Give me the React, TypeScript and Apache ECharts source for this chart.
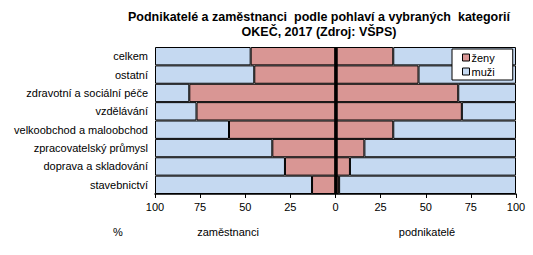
import React, { useEffect, useRef } from "react";
import * as echarts from "echarts";

const categories = [
  "celkem",
  "ostatní",
  "zdravotní a sociální péče",
  "vzdělávání",
  "velkoobchod a maloobchod",
  "zpracovatelský průmysl",
  "doprava a skladování",
  "stavebnictví",
];
// podíl žen (%)
const zenyZamestnanci = [47, 45, 81, 77, 59, 35, 28, 13];
const zenyPodnikatele = [32, 46, 68, 70, 32, 16, 8, 2];
const xTicks = [-100, -75, -50, -25, 0, 25, 50, 75, 100];
const titleLines = [
  "Podnikatelé a zaměstnanci  podle pohlaví a vybraných  kategorií",
  "OKEČ, 2017 (Zdroj: VŠPS)",
];

const PINK = "#d99694";
const BLUE = "#c5d9f1";
const FONT = "Liberation Sans, Arial, sans-serif";

export default function App() {
  const ref = useRef<HTMLDivElement>(null);
  useEffect(() => {
    if (!ref.current) return;
    const chart = echarts.init(ref.current, undefined, { renderer: "svg" });
    const muziZam = zenyZamestnanci.map((v) => -(100 - v));
    const muziPod = zenyPodnikatele.map((v) => 100 - v);
    const barBase = {
      type: "bar" as const,
      stack: "all",
      barCategoryGap: "0%",
      itemStyle: { borderColor: "#000", borderWidth: 1 },
    };
    chart.setOption({
      animation: false,
      textStyle: { fontFamily: FONT },
      grid: { left: 155, right: 17, top: 47, bottom: 61 },
      legend: {
        data: ["ženy", "muži"],
        orient: "vertical",
        left: 452,
        top: 49,
        itemWidth: 7,
        itemHeight: 7,
        itemGap: 3,
        padding: [3, 18, 3, 10],
        backgroundColor: "#fff",
        borderColor: "#000",
        borderWidth: 1,
        textStyle: { fontSize: 11, color: "#000", fontFamily: FONT, padding: [0, 0, 0, -3] },
        icon: "rect",
        itemStyle: { borderColor: "#000", borderWidth: 1 },
      },
      xAxis: {
        type: "value",
        min: -100,
        max: 100,
        interval: 25,
        splitLine: { show: false },
        axisLine: { show: true, lineStyle: { color: "#000", width: 1.5 } },
        axisTick: { show: true, length: 4, lineStyle: { color: "#000" } },
        axisLabel: {
          fontSize: 11,
          color: "#000",
          margin: 7,
          fontFamily: FONT,
          formatter: (v: number) => (xTicks.includes(v) ? String(Math.abs(v)) : ""),
        },
      },
      yAxis: {
        type: "category",
        data: categories,
        inverse: true,
        axisLine: { show: false },
        axisTick: { show: false },
        axisLabel: { fontSize: 11, color: "#000", margin: 7, fontFamily: FONT },
      },
      series: [
        {
          ...barBase,
          name: "ženy",
          data: zenyZamestnanci.map((v) => -v),
          itemStyle: { ...barBase.itemStyle, color: PINK },
          markLine: {
            silent: true,
            symbol: "none",
            label: { show: false },
            lineStyle: { color: "#000", width: 3.5, type: "solid" },
            data: [{ xAxis: 0 }],
          },
        },
        { ...barBase, name: "muži", data: muziZam, itemStyle: { ...barBase.itemStyle, color: BLUE } },
        { ...barBase, name: "ženy", data: zenyPodnikatele, itemStyle: { ...barBase.itemStyle, color: PINK } },
        { ...barBase, name: "muži", data: muziPod, itemStyle: { ...barBase.itemStyle, color: BLUE } },
      ],
      graphic: [
        ...titleLines.map((t, i) => ({
          type: "text",
          x: 319,
          y: 17 + i * 15,
          style: {
            text: t,
            font: `bold 12.5px ${FONT}`,
            fill: "#000",
            align: "center",
            verticalAlign: "middle",
          },
        })),
        {
          type: "text",
          x: 118,
          y: 232,
          style: { text: "%", font: `11px ${FONT}`, fill: "#000", align: "center", verticalAlign: "middle" },
        },
        {
          type: "text",
          x: 228,
          y: 232,
          style: { text: "zaměstnanci", font: `11px ${FONT}`, fill: "#000", align: "center", verticalAlign: "middle" },
        },
        {
          type: "text",
          x: 427,
          y: 232,
          style: { text: "podnikatelé", font: `11px ${FONT}`, fill: "#000", align: "center", verticalAlign: "middle" },
        },
      ],
    });
    return () => chart.dispose();
  }, []);
  return <div ref={ref} style={{ width: 533, height: 255, position: "absolute", left: 0, top: 0 }} />;
}
